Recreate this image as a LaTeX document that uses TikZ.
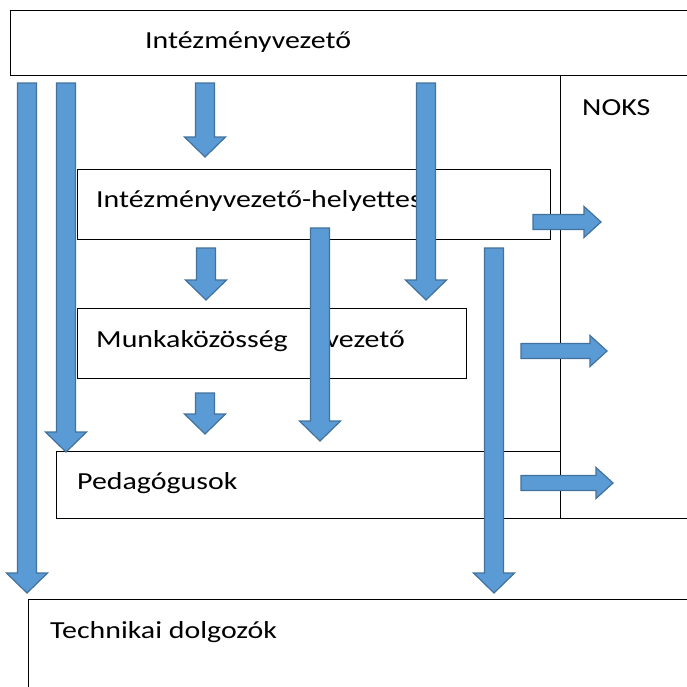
\documentclass[tikz,border=0pt]{standalone}
\usepackage{fontspec}
\setmainfont{Carlito}[FakeStretch=1.22]
\usepackage{tikz}
\usetikzlibrary{calc}

\definecolor{arrowfill}{RGB}{91,155,213}
\definecolor{arrowline}{RGB}{65,113,156}

% block arrows between two named points
\newcommand{\blockdown}[2]{%
  \path[blockarrow] let \p1=(#1), \p2=(#2) in
    (\x1-9.5pt,\y1) -- (\x1+9.5pt,\y1) -- (\x1+9.5pt,\y2+20pt) -- (\x1+20.5pt,\y2+20pt)
    -- (\x1,\y2) -- (\x1-20.5pt,\y2+20pt) -- (\x1-9.5pt,\y2+20pt) -- cycle;}
\newcommand{\blockright}[2]{%
  \path[blockarrow] let \p1=(#1), \p2=(#2) in
    (\x1,\y1+7.5pt) -- (\x2-17pt,\y1+7.5pt) -- (\x2-17pt,\y1+15.5pt) -- (\x2,\y1)
    -- (\x2-17pt,\y1-15.5pt) -- (\x2-17pt,\y1-7.5pt) -- (\x1,\y1-7.5pt) -- cycle;}

\begin{document}
\begin{tikzpicture}[x=1pt, y=-1pt,
    box/.style={draw, fill=white, line width=1.2pt, anchor=north west, inner sep=0pt},
    lbl/.style={anchor=base west, inner sep=0pt, font=\fontsize{24.5}{28}\selectfont},
    blockarrow/.style={fill=arrowfill, draw=arrowline, line width=1.2pt}]

    \clip (0,0) rectangle (687,686);

    % Define nodes
    \node[box, minimum width=700pt, minimum height=65pt]  (ivez) at (10,10) {};
    \node[box, minimum width=150pt, minimum height=443pt] (noks) at (560,75) {};
    \node[box, minimum width=473pt, minimum height=70pt]  (helyettes) at (77,169) {};
    \node[box, minimum width=389pt, minimum height=70pt]  (mkvez) at (77,308) {};
    \node[box, minimum width=504pt, minimum height=67pt]  (pedag) at (56,451) {};
    \node[box, minimum width=680pt, minimum height=120pt] (techn) at (28,599) {};

    \node[lbl] (ivezlbl)      at (145,48)  {Intézményvezető};
    \node[lbl] (nokslbl)      at (582,115) {NOKS};
    \node[lbl] (helyetteslbl) at (96,207)  {Intézményvezető-helyettes};
    \node[lbl] (mkvezlbl)     at (96,347)  {Munkaközösség\hspace{38pt}vezető};
    \node[lbl] (pedaglbl)     at (77,489)  {Pedagógusok};
    \node[lbl] (technlbl)     at (50,638)  {Technikai dolgozók};

    % arrow ends
    \coordinate (d1a) at (27,83);   \coordinate (d1b) at (27,593);
    \coordinate (d2a) at (66,83);   \coordinate (d2b) at (66,452);
    \coordinate (d3a) at (205,83);  \coordinate (d3b) at (205,157);
    \coordinate (d4a) at (426,83);  \coordinate (d4b) at (426,300);
    \coordinate (d5a) at (320,228); \coordinate (d5b) at (320,441);
    \coordinate (d6a) at (206,248); \coordinate (d6b) at (206,300);
    \coordinate (d7a) at (494,248); \coordinate (d7b) at (494,593);
    \coordinate (d8a) at (205,393); \coordinate (d8b) at (205,434);
    \coordinate (r1a) at (533,222); \coordinate (r1b) at (601,222);
    \coordinate (r2a) at (521,351); \coordinate (r2b) at (607,351);
    \coordinate (r3a) at (521,483); \coordinate (r3b) at (613,483);

    % Connect the nodes
    \blockdown{d1a}{d1b}
    \blockdown{d2a}{d2b}
    \blockdown{d3a}{d3b}
    \blockdown{d4a}{d4b}
    \blockdown{d5a}{d5b}
    \blockdown{d6a}{d6b}
    \blockdown{d7a}{d7b}
    \blockdown{d8a}{d8b}
    \blockright{r1a}{r1b}
    \blockright{r2a}{r2b}
    \blockright{r3a}{r3b}
\end{tikzpicture}
\end{document}
